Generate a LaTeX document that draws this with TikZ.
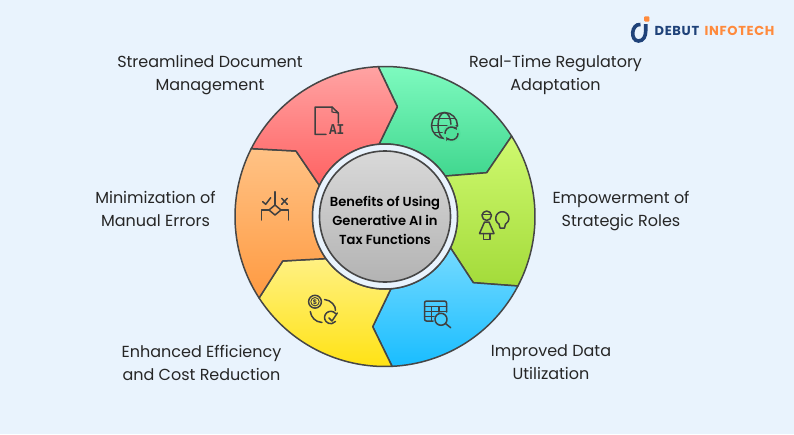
\documentclass[tikz,border=0pt]{standalone}
\usepackage{fontspec}
\setmainfont{Poppins}
\newfontfamily\semib{Poppins SemiBold}
\newfontfamily\logofont[LetterSpace=5]{Poppins}
\newfontfamily\aifont{Liberation Mono}
\usetikzlibrary{arrows.meta}
\definecolor{bgc}{HTML}{E9F3FD}
\definecolor{ink}{HTML}{464646}
\definecolor{iconc}{HTML}{404040}
\definecolor{navy}{HTML}{1F4279}
\definecolor{logoor}{HTML}{FF8A3C}
\definecolor{gta}{HTML}{7FFBC0}\definecolor{gtb}{HTML}{41D78F}
\definecolor{lia}{HTML}{CFF96F}\definecolor{lib}{HTML}{A3DB3A}
\definecolor{bla}{HTML}{75DAFF}\definecolor{blb}{HTML}{19BDFF}
\definecolor{yea}{HTML}{FFF183}\definecolor{yeb}{HTML}{FFE212}
\definecolor{ora}{HTML}{FFC285}\definecolor{orb}{HTML}{FF9A41}
\definecolor{rea}{HTML}{FFA3A3}\definecolor{reb}{HTML}{FF6262}
\definecolor{gra}{HTML}{D9D9D9}\definecolor{grb}{HTML}{B3B3B3}
\definecolor{gk}{HTML}{50E09A}\definecolor{bk}{HTML}{45CDFF}
\tikzset{
  seg/.style={draw=ink,line width=1.5pt,line join=round},
  icon/.style={draw=iconc,line width=1.5pt,line cap=round,line join=round},
  lab/.style={align=center,font=\fontsize{16}{23}\selectfont,text=black!85,inner sep=0pt},
}
% #1 a1, #2 a2 outer; #3 ia1, #4 ia2 inner; #5 mid1, #6 mid2; #7 top, #8 bottom
\newcommand\segm[8]{%
  \path[seg,top color=#7,bottom color=#8]
    ([shift={(385,216.5)}]#1:150pt) arc[start angle=#1,end angle=#2,radius=150pt]
    -- (#6) -- ([shift={(385,216.5)}]#4:72.5pt) arc[start angle=#4,end angle=#3,radius=72.5pt]
    -- (#5) -- cycle;}
\begin{document}
\begin{tikzpicture}[x=1pt,y=1pt,yscale=-1]
\useasboundingbox (0,0) rectangle (794,434);
\fill[bgc] (0,0) rectangle (794,434);
% sectors
\segm{-92.6}{-32.4}{-94.7}{-33.9}{397.3,106.7}{486.7,172.7}{gta}{gtb}
\segm{-32.4}{27.6}{-33.9}{25.5}{486.7,172.7}{473.3,282.7}{lia}{lib}
\segm{27.6}{87.3}{25.5}{85.3}{473.3,282.7}{372.7,326.7}{bla}{blb}
\segm{87.3}{147.1}{85.3}{144.5}{372.7,326.7}{282.7,261}{yea}{yeb}
\segm{147.1}{206.9}{144.5}{205.3}{282.7,261}{296,151}{ora}{orb}
\segm{206.9}{267.4}{205.3}{265.3}{296,151}{397.3,106.7}{rea}{reb}
% hub
\coordinate (hub) at (385,216.5);
\path[fill=bgc,draw=ink,line width=1.5pt] (hub) circle[radius=72.5pt];
\path[draw=ink,line width=1.6pt,top color=gra,bottom color=grb] (hub) circle[radius=65.5pt];
\node[align=center,font=\fontsize{13.1}{19}\selectfont\semib,text=black,inner sep=0pt] (title) at (385,220) {Benefits of Using\\Generative AI in\\Tax Functions};
% labels
\node[lab] (l1) at (210,75) {Streamlined Document\\Management};
\node[lab] (l2) at (555.5,75) {Real-Time Regulatory\\Adaptation};
\node[lab] (l3) at (621,211) {Empowerment of\\Strategic Roles};
\node[lab] (l4) at (551,362.5) {Improved Data\\Utilization};
\node[lab] (l5) at (201.5,362.5) {Enhanced Efficiency\\and Cost Reduction};
\node[lab] (l6) at (155.5,208.5) {Minimization of\\Manual Errors};
% icon: AI document
\draw[icon] (326,134.3) -- (315,134.3) -- (315,107) -- (332,107) -- (338.3,113) -- (338.3,123);
\draw[icon,line width=1.1pt] (332,107) -- (332,112) -- (338.3,113);
\node[inner sep=0pt,text=iconc,font=\fontsize{15}{15}\selectfont\aifont\bfseries,xscale=.85] (ai) at (336.7,129.7) {AI};
% icon: globe
\draw[icon] (444.5,125.5) circle[radius=13pt];
\draw[icon] (444.5,125.5) ellipse[x radius=6.5pt,y radius=13pt];
\draw[icon] (431.5,125.5) -- (457.5,125.5) (434,118.5) -- (455,118.5) (434,132.5) -- (455,132.5);
\fill[gk] (451.5,133.5) circle[radius=9pt];
\draw[icon,-{Stealth[length=3.5pt,width=4pt]}] (445,133.5) arc[start angle=180,end angle=325,radius=6.5pt];
\draw[icon,-{Stealth[length=3.5pt,width=4pt]}] (458,133.5) arc[start angle=0,end angle=145,radius=6.5pt];
% icon: person + bulb
\draw[icon] (486.7,215.7) circle[radius=4.7pt];
\draw[icon] (482,214.5) -- (491.4,214.5);
\draw[icon] (484.5,222) -- (479.5,233.5) -- (494,233.5) -- (489,222) -- cycle;
\draw[icon] (483.5,233.5) -- (483.5,239.3) -- (490,239.3) -- (490,233.5);
\draw[icon] (499,224) arc[start angle=120,end angle=420,radius=6.6pt];
\draw[icon] (499,224) -- (500,228) -- (504.5,228) -- (505.5,224);
% icon: table + magnifier
\draw[icon] (433,321) -- (426.5,321) arc[start angle=90,end angle=180,radius=2pt] -- (424.5,303) arc[start angle=180,end angle=270,radius=2pt] -- (444.5,301) arc[start angle=270,end angle=360,radius=2pt] -- (446.5,312);
\draw[icon] (424.5,306.7) -- (446.5,306.7) (424.5,311.7) -- (446.5,311.7) (424.5,316.7) -- (434,316.7)
  (431.5,306.7) -- (431.5,321) (439,306.7) -- (439,312);
\path[icon,fill=bk] (441,319.3) circle[radius=6pt];
\draw[icon] (445.5,323.5) -- (450.7,327.7);
% icon: coin + check
\draw[icon] (315,301.7) circle[radius=6.4pt];
\draw[icon,line width=.9pt] (315,301.7) circle[radius=4.2pt];
\node[inner sep=0pt,text=iconc,font=\fontsize{6.5}{6.5}\selectfont\bfseries] (dollar) at (315,301.9) {\$};
\draw[icon] (324.5,299.5) .. controls (331,300) and (336,306) .. (335.5,310.5);
\draw[icon] (310.3,311.5) .. controls (311,317) and (315,322) .. (322,322.5);
\draw[icon] (335.5,313.5) arc[start angle=-40,end angle=-320,radius=6.2pt];
\draw[icon] (329,318) -- (332,321) -- (337.3,313);
% icon: decision
\draw[icon] (275,191.7) -- (275,205);
\draw[icon] (275,205) -- (281,210) -- (275,215) -- (269,210) -- cycle;
\draw[icon] (269,210) -- (261.7,210) -- (261.7,220);
\draw[icon] (281,210) -- (288.3,210) -- (288.3,220);
\draw[icon] (262.7,201.7) -- (265.7,204.3) -- (270.7,197.7);
\draw[icon] (281.7,198.3) -- (287.3,204.3) (287.3,198.3) -- (281.7,204.3);
% logo
\draw[navy,line width=3.6pt] (640.5,24.5) .. controls (631,23.5) and (630,41) .. (638.5,41) .. controls (643.5,41) and (645.7,36) .. (645.7,31) -- (645.7,24);
\fill[logoor,rounded corners=.8pt] (644.2,16.3) rectangle (649.3,21.5);
\node[anchor=base west,inner sep=0pt,text=navy,font=\fontsize{13}{13}\selectfont\logofont\bfseries] (logoa) at (654.5,35.2) {DEBUT};
\node[anchor=base west,inner sep=0pt,text=logoor,font=\fontsize{13}{13}\selectfont\logofont\bfseries] (logob) at (704.5,35.2) {INFOTECH};
\end{tikzpicture}
\end{document}
